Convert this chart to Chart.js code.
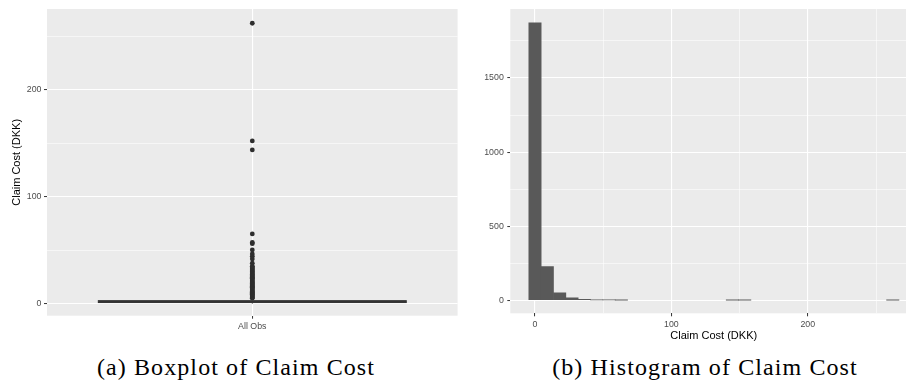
<!DOCTYPE html>
<html>
<head>
<meta charset="utf-8">
<script src="https://cdn.jsdelivr.net/npm/chart.js@4.4.1/dist/chart.umd.min.js"></script>
<style>
  html, body { margin: 0; padding: 0; background: #fff; overflow: hidden; }
  #page { position: relative; width: 906px; height: 390px; overflow: hidden; }
  .plot { position: absolute; top: 0; height: 345px; }
  #boxPlot { left: 0; width: 460px; }
  #histPlot { left: 460px; width: 460px; }
  .caption {
    position: absolute; top: 353px; line-height: 28px; white-space: nowrap;
    font-family: "Liberation Serif", "Times New Roman", serif; font-size: 24px;
    letter-spacing: 1.1px; color: #000; transform: translateX(-50%);
  }
</style>
</head>
<body>
<div id="page">
  <div class="plot" id="boxPlot"><canvas id="boxCanvas"></canvas></div>
  <div class="plot" id="histPlot"><canvas id="histCanvas"></canvas></div>
  <div class="caption" style="left:236px">(a) Boxplot of Claim Cost</div>
  <div class="caption" style="left:705px">(b) Histogram of Claim Cost</div>
</div>
<script>
// ---- Boxplot data (claim cost, DKK) ----
const boxCategory = 'All Obs';
const boxStats = { lowerWhisker: 0.3, q1: 1.3, median: 2.0, q3: 3.1, upperWhisker: 5.2 };
const outlierValues = [
  5.3, 6.1, 6.8, 7.6, 8.4, 9.1, 10.0, 10.8, 11.5, 12.4, 13.2, 14.1, 14.9, 15.6,
  16.5, 17.3, 18.2, 19.0, 19.8, 20.6, 21.5, 22.3, 23.2, 24.0, 24.9, 25.7, 26.6,
  27.4, 28.3, 29.1, 30.0, 30.8, 31.7, 32.6, 33.5, 34.4, 35.2, 38.0, 42.0, 44.5,
  46.7, 50.5, 56.3, 57.4, 65.4, 143.9, 152.3, 262.3
];
const boxGridY = [0, 50, 100, 150, 200, 250];
const boxMajorY = [0, 100, 200];

// ---- Histogram data (30 bins) ----
const binCenters = [
  0, 9.04, 18.09, 27.13, 36.18, 45.22, 54.27, 63.31, 72.36, 81.40,
  90.45, 99.49, 108.54, 117.58, 126.63, 135.67, 144.72, 153.76, 162.81, 171.85,
  180.90, 189.94, 198.99, 208.03, 217.08, 226.12, 235.17, 244.21, 253.26, 262.30
];
const binCounts = [
  1873, 228, 50, 16, 6, 2, 2, 1, 0, 0,
  0, 0, 0, 0, 0, 0, 1, 1, 0, 0,
  0, 0, 0, 0, 0, 0, 0, 0, 0, 1
];
const histGridX = [0, 50, 100, 150, 200, 250];
const histMajorX = [0, 100, 200];
const histGridY = [0, 250, 500, 750, 1000, 1250, 1500, 1750];
const histMajorY = [0, 500, 1000, 1500];

const axisTitle = 'Claim Cost (DKK)';

// ---- shared ggplot-like styling ----
const SANS = "'Liberation Sans', Arial, sans-serif";
const tickFont = { family: SANS, size: 8.8 };
const titleFont = { family: SANS, size: 11 };

const panelBackground = {
  id: 'panelBackground',
  beforeDraw(chart) {
    const { ctx, chartArea: a } = chart;
    ctx.save();
    ctx.fillStyle = '#EBEBEB';
    ctx.fillRect(a.left, a.top, a.right - a.left, a.bottom - a.top);
    ctx.restore();
  }
};

function gridStyle(majors) {
  return {
    color: '#FFFFFF',
    lineWidth: c => (c.tick && majors.includes(c.tick.value)) ? 1.1 : 0.55,
    tickColor: c => (c.tick && majors.includes(c.tick.value)) ? '#333333' : 'rgba(0,0,0,0)',
    tickLength: 3,
    tickWidth: 1,
    drawTicks: true
  };
}

function fixedTicks(values) {
  return s => { s.ticks = values.map(v => ({ value: v })); };
}

// Box, median and whiskers drawn through the chart's own scales
const boxLayer = {
  id: 'boxLayer',
  afterDatasetsDraw(chart) {
    const { ctx, scales: { x, y } } = chart;
    const cx = x.getPixelForValue(1);
    const left = x.getPixelForValue(1 - 0.45);
    const right = x.getPixelForValue(1 + 0.45);
    const yq1 = y.getPixelForValue(boxStats.q1);
    const yq3 = y.getPixelForValue(boxStats.q3);
    const ymed = y.getPixelForValue(boxStats.median);
    ctx.save();
    ctx.strokeStyle = '#333333';
    ctx.lineWidth = 1;
    ctx.beginPath();
    ctx.moveTo(cx, y.getPixelForValue(boxStats.lowerWhisker));
    ctx.lineTo(cx, yq1);
    ctx.moveTo(cx, yq3);
    ctx.lineTo(cx, y.getPixelForValue(boxStats.upperWhisker));
    ctx.stroke();
    ctx.fillStyle = '#FFFFFF';
    ctx.fillRect(left, yq3, right - left, yq1 - yq3);
    ctx.strokeRect(left, yq3, right - left, yq1 - yq3);
    ctx.lineWidth = 1.6;
    ctx.beginPath();
    ctx.moveTo(left, ymed);
    ctx.lineTo(right, ymed);
    ctx.stroke();
    ctx.restore();
  }
};

new Chart(document.getElementById('boxCanvas'), {
  type: 'scatter',
  data: {
    datasets: [{
      data: outlierValues.map(v => ({ x: 1, y: v })),
      pointRadius: 2.4,
      pointHoverRadius: 2.4,
      pointBackgroundColor: '#2E2E2E',
      pointBorderWidth: 0
    }]
  },
  options: {
    responsive: true,
    maintainAspectRatio: false,
    animation: false,
    events: [],
    layout: { padding: { top: 9, right: 2.3, left: 0, bottom: 0 } },
    plugins: { legend: { display: false }, tooltip: { enabled: false } },
    scales: {
      x: {
        type: 'linear', min: 0.4, max: 1.6,
        afterBuildTicks: fixedTicks([1]),
        afterFit: s => { s.height = 29.3; },
        grid: gridStyle([1]),
        border: { display: false },
        ticks: { callback: () => boxCategory, color: '#4D4D4D', font: tickFont, padding: 2.5, maxRotation: 0 }
      },
      y: {
        type: 'linear', min: -11, max: 275.6,
        afterBuildTicks: fixedTicks(boxGridY),
        afterFit: s => { s.width = 47; },
        grid: gridStyle(boxMajorY),
        border: { display: false },
        ticks: { callback: v => boxMajorY.includes(v) ? String(v) : '', color: '#4D4D4D', font: tickFont, padding: 2.5 },
        title: { display: true, text: axisTitle, color: '#000', font: titleFont, padding: { top: 10, bottom: 0 } }
      }
    }
  },
  plugins: [panelBackground, boxLayer]
});

new Chart(document.getElementById('histCanvas'), {
  type: 'bar',
  data: {
    datasets: [{
      // empty bins are left out so nothing is drawn for them
      data: binCenters.map((c, i) => ({ x: c, y: binCounts[i] > 0 ? binCounts[i] : null })),
      backgroundColor: '#595959',
      borderWidth: 0,
      barPercentage: 1,
      categoryPercentage: 1
    }]
  },
  options: {
    responsive: true,
    maintainAspectRatio: false,
    animation: false,
    events: [],
    layout: { padding: { top: 9, right: 2.8, left: 0, bottom: 0 } },
    plugins: { legend: { display: false }, tooltip: { enabled: false } },
    scales: {
      x: {
        type: 'linear', min: -18.1, max: 280.2, offset: false,
        afterBuildTicks: fixedTicks(histGridX),
        afterFit: s => { s.height = 31.7; },
        grid: Object.assign(gridStyle(histMajorX), { offset: false }),
        border: { display: false },
        ticks: { callback: v => histMajorX.includes(v) ? String(v) : '', color: '#4D4D4D', font: tickFont, padding: 3, maxRotation: 0 },
        title: { display: true, text: axisTitle, color: '#000', font: titleFont, padding: { top: 0, bottom: 2.9 } }
      },
      y: {
        type: 'linear', min: -88, max: 1965.5,
        afterBuildTicks: fixedTicks(histGridY),
        afterFit: s => { s.width = 50.3; },
        grid: gridStyle(histMajorY),
        border: { display: false },
        ticks: { callback: v => histMajorY.includes(v) ? String(v) : '', color: '#4D4D4D', font: tickFont, padding: 3.5 }
      }
    }
  },
  plugins: [panelBackground]
});
</script>
</body>
</html>
